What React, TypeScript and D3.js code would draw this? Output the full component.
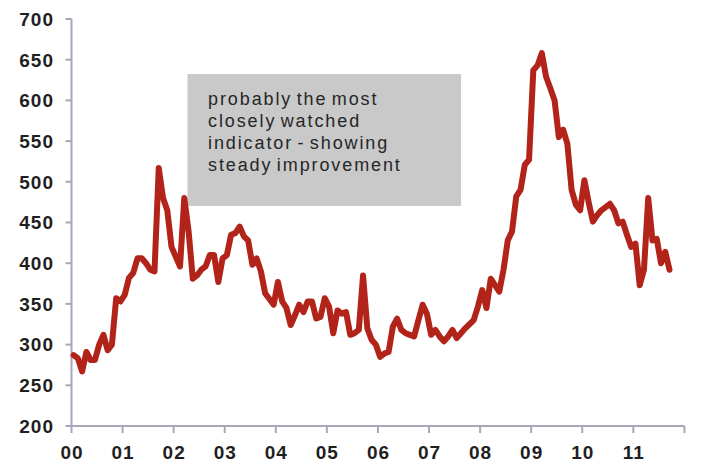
import React from "react";
import * as d3 from "d3";

// Monthly index readings, January 2000 onwards
const startYear = 2000;
const monthlyValues: number[] = [
  287, 283, 267, 291, 281, 281, 300, 312, 293, 300, 357, 353,
  361, 382, 388, 406, 406, 400, 392, 390, 517, 480, 465, 420,
  408, 396, 480, 440, 381, 385, 392, 396, 410, 410, 377, 406,
  410, 435, 437, 445, 433, 428, 398, 406, 390, 363, 356, 349,
  377, 353, 345, 324, 336, 349, 340, 353, 353, 332, 334, 357,
  347, 314, 342, 338, 340, 312, 314, 318, 385, 320, 306, 300,
  285, 289, 291, 322, 332, 318, 314, 312, 310, 330, 349, 338,
  312, 318, 310, 304, 310, 318, 308, 314, 320, 325, 330, 347,
  367, 345, 381, 373, 365, 392, 428, 439, 482, 490, 521, 527,
  637, 643, 658, 629, 615, 600, 555, 564, 547, 490, 472, 465,
  502, 475, 451, 459, 465, 469, 473, 465, 449, 451, 435, 420,
  424, 373, 392, 480, 428, 430, 400, 414, 392,
];

const yearLabels = ["00", "01", "02", "03", "04", "05", "06", "07", "08", "09", "10", "11"];
const yTicks = [200, 250, 300, 350, 400, 450, 500, 550, 600, 650, 700];
const noteLines = ["probably the most", "closely watched", "indicator - showing", "steady improvement"];

const W = 714;
const H = 464;
const FONT = "'Liberation Sans', Arial, Helvetica, sans-serif";

export default function App() {
  const yearsShown = yearLabels.length; // axis closes at the start of the following year
  const x = d3.scaleLinear().domain([0, yearsShown * 12]).range([71.5, 684.4]);
  const y = d3.scaleLinear().domain([200, 700]).range([426, 19]);

  const line = d3
    .line<number>()
    .x((_, i) => x(i + 0.5))
    .y((v) => y(v))
    .curve(d3.curveLinear);

  const axisColor = "#a7a7b9";
  const xTickMonths = d3.range(0, yearsShown * 12 + 1, 12);

  return (
    <svg
      width={W}
      height={H}
      style={{ position: "absolute", left: 0, top: 0, background: "#fff" }}
      fontFamily={FONT}
    >
      {/* annotation box */}
      <rect x={187.5} y={74} width={273.5} height={132} fill="#c9c9c9" />
      {noteLines.map((t, i) => (
        <text
          key={t}
          x={208}
          y={104.5 + i * 22}
          fontSize={18}
          letterSpacing={1.9}
          wordSpacing={-2.5}
          fill="#262626"
        >
          {t}
        </text>
      ))}

      {/* y axis */}
      <line x1={x(0)} x2={x(0)} y1={y(700)} y2={y(200)} stroke={axisColor} strokeWidth={2} />
      {yTicks.map((v) => (
        <g key={v}>
          <line x1={x(0) - 6} x2={x(0)} y1={y(v)} y2={y(v)} stroke={axisColor} strokeWidth={2} />
          <text
            x={54}
            y={y(v)}
            dy="0.36em"
            textAnchor="end"
            fontSize={19}
            fontWeight="bold"
            letterSpacing={1}
            fill="#1f1f1f"
          >
            {v}
          </text>
        </g>
      ))}

      {/* x axis */}
      <line x1={x(0)} x2={x(yearsShown * 12)} y1={y(200)} y2={y(200)} stroke={axisColor} strokeWidth={2} />
      {xTickMonths.map((m) => (
        <line key={m} x1={x(m)} x2={x(m)} y1={y(200)} y2={y(200) + 7} stroke={axisColor} strokeWidth={2} />
      ))}
      {yearLabels.map((lab, i) => (
        <text
          key={lab}
          x={x(i * 12) + 0.5}
          y={458.5}
          textAnchor="middle"
          fontSize={19}
          fontWeight="bold"
          letterSpacing={1}
          fill="#1f1f1f"
        >
          {lab}
        </text>
      ))}

      {/* index series */}
      <path
        d={line(monthlyValues) || ""}
        fill="none"
        stroke="#b2241a"
        strokeWidth={6}
        strokeLinejoin="round"
        strokeLinecap="round"
      />
      <title>{`Index ${startYear}–${startYear + yearLabels.length - 1}`}</title>
    </svg>
  );
}
